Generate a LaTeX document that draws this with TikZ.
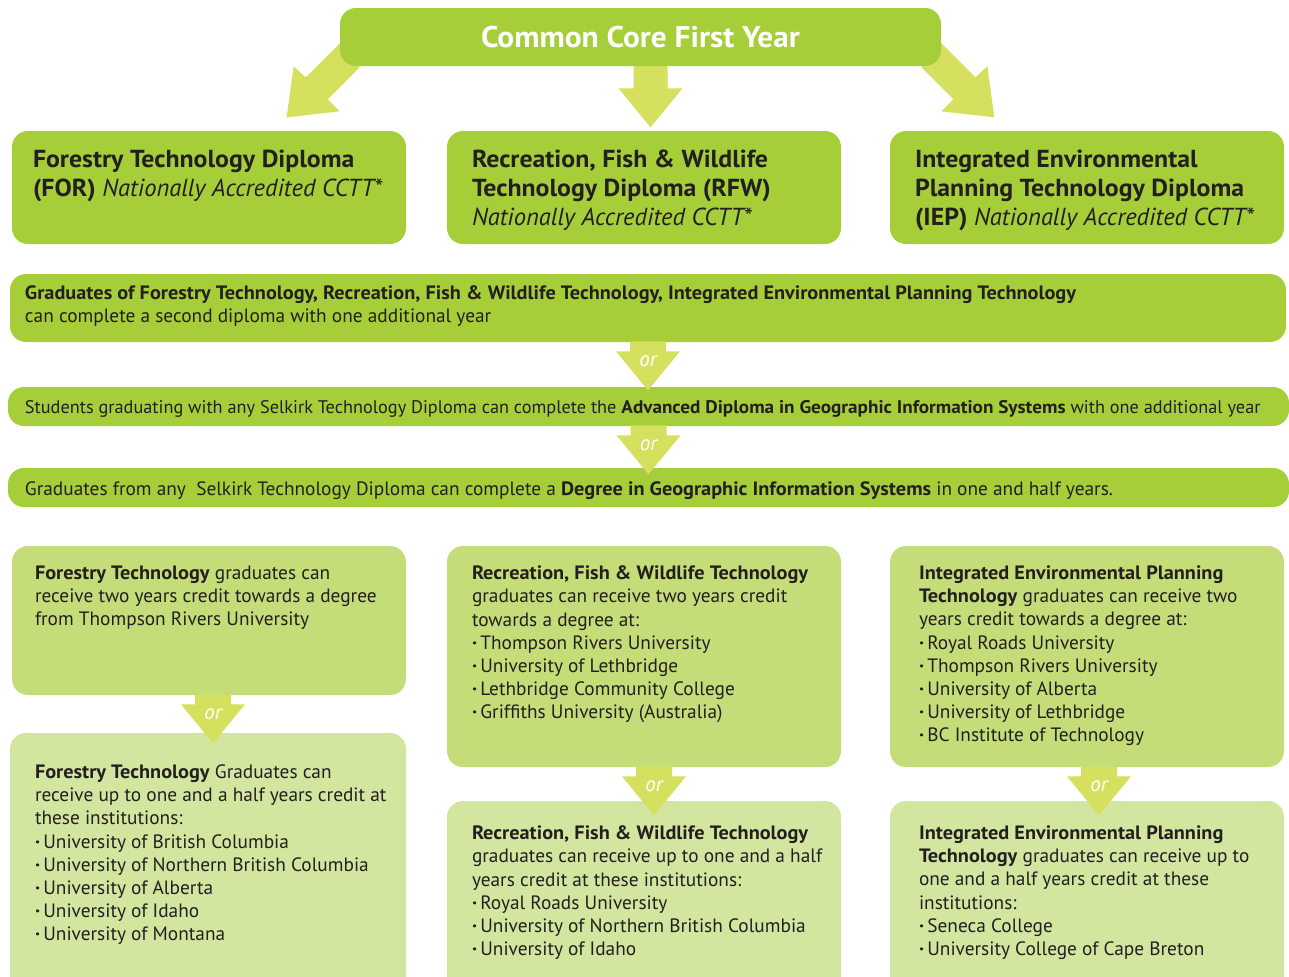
\documentclass[tikz,border=0pt]{standalone}
\usepackage{fontspec}
\setmainfont{PT Sans}[BoldFeatures={FakeStretch=1.05}]
\usetikzlibrary{calc,fit,backgrounds}
\definecolor{leaf}{HTML}{A6CE39}
\definecolor{moss}{HTML}{C5DD78}
\definecolor{pale}{HTML}{D3E6A0}
\definecolor{lime}{HTML}{D5E05F}
\definecolor{ink}{HTML}{231F20}
\tikzset{
  panel/.style={rounded corners=0.32cm, inner sep=0pt},
  headtxt/.style={anchor=north west, align=left, inner sep=0pt, text=ink,
    font=\fontsize{14}{16.4}\selectfont},
  bandtxt/.style={anchor=north west, align=left, inner sep=0pt, text=ink,
    font=\fontsize{10.4}{13}\selectfont},
  bodytxt/.style={anchor=north west, align=left, inner sep=0pt, text=ink,
    font=\fontsize{11}{13.15}\selectfont},
  ortxt/.style={text=white, inner sep=0pt, font=\fontsize{12}{12}\selectfont\itshape},
  arrowfill/.style={fill=lime},
}
\newcommand{\dotitem}{{\bfseries ·}\,}
\newcommand{\bandbf}[2][1.12]{{\bfseries\addfontfeature{FakeStretch=#1}#2}}
% fat "or" arrow hanging below a point
\newcommand{\orarrow}[2]{%
  \fill[arrowfill] ($(#1)+(-18,-1)$) -- ($(#1)+(18,-1)$) -- ($(#1)+(18,9)$)
    -- ($(#1)+(32,9)$) -- ($(#1)+(0,48)$) -- ($(#1)+(-32,9)$) -- ($(#1)+(-18,9)$) -- cycle;
  \node[ortxt] (#2) at ($(#1)+(0,19)$) {or};}
\begin{document}
\begin{tikzpicture}[x=0.02cm, y=-0.02cm]
  \useasboundingbox (0,0) rectangle (1289,977);
  \clip (0,0) rectangle (1289,977);

  % first year
  \node[panel, fill=leaf, fit={(340,8)(941,66)}] (core) {};
  \node[text=white, font=\fontsize{17}{20}\selectfont\bfseries] (coretxt) at (core) {Common Core First Year};
  \begin{scope}[on background layer]
    \fill[arrowfill] ($(core.south west)+(0,-23)$) -- ($(core.south west)+(-34,11)$)
      -- ($(core.south west)+(-46,0)$) -- ($(core.south west)+(-53,51)$)
      -- ($(core.south west)+(0,45)$) -- ($(core.south west)+(-12,33)$)
      -- ($(core.south west)+(20,1)$) -- cycle;
    \fill[arrowfill] ($(core.south east)+(0,-23)$) -- ($(core.south east)+(34,11)$)
      -- ($(core.south east)+(46,0)$) -- ($(core.south east)+(53,51)$)
      -- ($(core.south east)+(0,45)$) -- ($(core.south east)+(12,33)$)
      -- ($(core.south east)+(-20,1)$) -- cycle;
    \fill[arrowfill] ($(core.south)+(-7,-2)$) -- ($(core.south)+(27,-2)$)
      -- ($(core.south)+(27,22)$) -- ($(core.south)+(42,22)$)
      -- ($(core.south)+(10,61)$) -- ($(core.south)+(-22,22)$)
      -- ($(core.south)+(-7,22)$) -- cycle;
  \end{scope}

  % diplomas
  \node[panel, fill=leaf, fit={(12,131)(406,244)}] (for) {};
  \node[panel, fill=leaf, fit={(447,131)(841,244)}] (rfw) {};
  \node[panel, fill=leaf, fit={(890,131)(1284,244)}] (iep) {};
  \node[headtxt] (fortxt) at ($(for.north west)+(21,19)$)
    {\textbf{Forestry Technology Diploma}\\\textbf{(FOR)} \textit{Nationally Accredited CCTT*}};
  \node[headtxt] (rfwtxt) at ($(rfw.north west)+(25,19)$)
    {\textbf{Recreation, Fish \& Wildlife}\\\textbf{Technology Diploma (RFW)}\\\textit{Nationally Accredited CCTT*}};
  \node[headtxt] (ieptxt) at ($(iep.north west)+(25,19)$)
    {\textbf{Integrated Environmental}\\\textbf{Planning Technology Diploma}\\\textbf{(IEP)} \textit{Nationally Accredited CCTT*}};

  % second diploma, advanced diploma, degree
  \node[panel, fill=leaf, fit={(10,274)(1286,342)}] (second) {};
  \node[bandtxt, font=\fontsize{11}{13}\selectfont] (secondtxt) at ($(second.north west)+(15,12)$)
    {\bandbf[1.14]{Graduates of Forestry Technology, Recreation, Fish \& Wildlife Technology, Integrated Environmental Planning Technology}\\
     can complete a second diploma with one additional year};
  \node[panel, fill=leaf, fit={(8,387)(1289,426)}] (adv) {};
  \node[bandtxt, anchor=west] (advtxt) at ($(adv.west)+(17,2)$)
    {Students graduating with any Selkirk Technology Diploma can complete the \bandbf[1.06]{Advanced Diploma in Geographic Information Systems} with one additional year};
  \node[panel, fill=leaf, fit={(8,468)(1289,507)}] (deg) {};
  \node[bandtxt, anchor=west, font=\fontsize{11}{13}\selectfont] (degtxt) at ($(deg.west)+(17,3)$)
    {Graduates from any\ \ Selkirk Technology Diploma can complete a \bandbf[1.17]{Degree in Geographic Information Systems} in one and half years.};
  \orarrow{second.south}{or1}
  \orarrow{adv.south}{or2}

  % degree credit
  \node[panel, fill=moss, fit={(12,546)(406,695)}] (forcr) {};
  \node[panel, fill=moss, fit={(447,546)(841,767)}] (rfwcr) {};
  \node[panel, fill=moss, fit={(890,546)(1284,767)}] (iepcr) {};
  \node[bodytxt] (forcrtxt) at ($(forcr.north west)+(23,20)$)
    {\textbf{Forestry Technology} graduates can\\receive two years credit towards a degree\\from Thompson Rivers University};
  \node[bodytxt] (rfwcrtxt) at ($(rfwcr.north west)+(25,20)$)
    {\textbf{Recreation, Fish \& Wildlife Technology}\\graduates can receive two years credit\\towards a degree at:\\
     \dotitem Thompson Rivers University\\\dotitem University of Lethbridge\\
     \dotitem Lethbridge Community College\\\dotitem Griffiths University (Australia)};
  \node[bodytxt] (iepcrtxt) at ($(iepcr.north west)+(29,20)$)
    {\textbf{Integrated Environmental Planning}\\\textbf{Technology} graduates can receive two\\years credit towards a degree at:\\
     \dotitem Royal Roads University\\\dotitem Thompson Rivers University\\\dotitem University of Alberta\\
     \dotitem University of Lethbridge\\\dotitem BC Institute of Technology};

  % transfer credit
  \node[panel, fill=pale, fit={(10,733)(406,1000)}] (fortr) {};
  \node[panel, fill=pale, fit={(447,801)(841,1000)}] (rfwtr) {};
  \node[panel, fill=pale, fit={(890,801)(1284,1000)}] (ieptr) {};
  \node[bodytxt] (fortrtxt) at ($(fortr.north west)+(25,32)$)
    {\textbf{Forestry Technology} Graduates can\\receive up to one and a half years credit at\\these institutions:\\
     \dotitem University of British Columbia\\\dotitem University of Northern British Columbia\\
     \dotitem University of Alberta\\\dotitem University of Idaho\\\dotitem University of Montana};
  \node[bodytxt] (rfwtrtxt) at ($(rfwtr.north west)+(25,25)$)
    {\textbf{Recreation, Fish \& Wildlife Technology}\\graduates can receive up to one and a half\\years credit at these institutions:\\
     \dotitem Royal Roads University\\\dotitem University of Northern British Columbia\\\dotitem University of Idaho};
  \node[bodytxt] (ieptrtxt) at ($(ieptr.north west)+(29,25)$)
    {\textbf{Integrated Environmental Planning}\\\textbf{Technology} graduates can receive up to\\one and a half years credit at these\\institutions:\\
     \dotitem Seneca College\\\dotitem University College of Cape Breton};
  \orarrow{$(forcr.south)+(4,0)$}{or3}
  \orarrow{$(rfwcr.south)+(10,0)$}{or4}
  \orarrow{$(iepcr.south)+(12,0)$}{or5}
\end{tikzpicture}
\end{document}
